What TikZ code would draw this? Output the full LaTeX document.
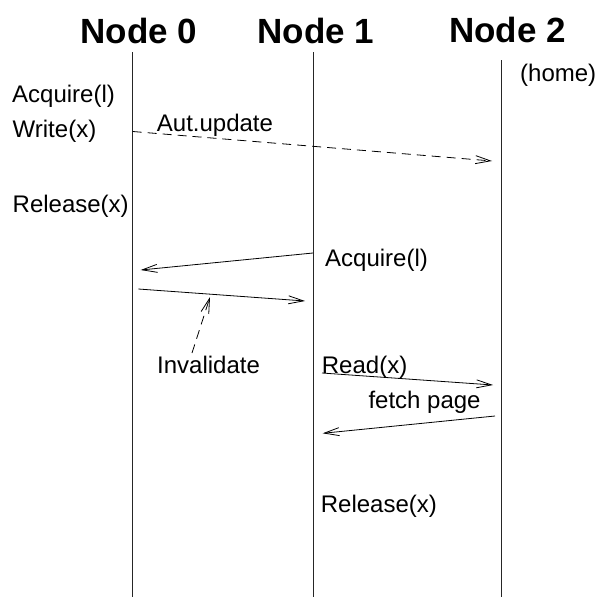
\documentclass[tikz,border=0pt]{standalone}
\usepackage{fontspec}
\setmainfont{Liberation Sans}
\usetikzlibrary{arrows.meta}

\begin{document}
\begin{tikzpicture}[x=1pt,y=-1pt,
  lifeline/.style={line width=1pt,draw=black!85},
  msg/.style={line width=0.8pt,-{Straight Barb[length=15pt,width=8pt,line width=0.8pt]}},
  dmsg/.style={msg,dash pattern=on 9pt off 6pt},
  title/.style={anchor=base,inner sep=0pt,font=\fontsize{35}{40}\selectfont\bfseries},
  lbl/.style={anchor=base west,inner sep=0pt,font=\fontsize{24}{28}\selectfont}]

\useasboundingbox (0,0) rectangle (596,597);

% column headings
\node[title] (n0) at (138.7,43.3) {Node 0};
\node[title] (n1) at (316,43.3) {Node 1};
\node[title] (n2) at (507.5,42.3) {Node 2};
\node[lbl] (home) at (520,81) {(home)};

% lifelines
\coordinate (t0) at (132.7,52);  \coordinate (b0) at (132.7,597);
\coordinate (t1) at (313,52);    \coordinate (b1) at (313,597);
\coordinate (t2) at (501.5,60);  \coordinate (b2) at (501.5,597);
\draw[lifeline] (t0) -- (b0);
\draw[lifeline] (t1) -- (b1);
\draw[lifeline] (t2) -- (b2);

% node 0 events
\node[lbl] (acq0) at (12,102) {Acquire(l)};
\node[lbl] (wr0) at (12.5,137) {Write(x)};
\node[lbl] (rel0) at (12.5,212) {Release(x)};
\node[lbl] (aut) at (156.7,131) {Aut.update};

% automatic update to the home node
\coordinate (u0) at (132.7,131.5);
\coordinate (u2) at (492,161);
\draw[dmsg] (u0) -- (u2);

% lock transfer between node 1 and node 0
\node[lbl] (acq1) at (325,266.7) {Acquire(l)};
\coordinate (a1) at (313,253);
\coordinate (a0) at (140.7,270);
\draw[msg] (a1) -- (a0);
\coordinate (g0) at (138.3,289);
\coordinate (g1) at (305,301);
\draw[msg] (g0) -- (g1);

% invalidation piggybacked on the grant
\node[lbl] (inv) at (157,373) {Invalidate};
\coordinate (i0) at (192,353);
\coordinate (i1) at (210,297);
\draw[dmsg] (i0) -- (i1);

% page fetch from the home node
\node[lbl] (rd1) at (321.7,373.3) {Read(x)};
\coordinate (r1) at (322,373);
\coordinate (r2) at (493,385);
\draw[msg] (r1) -- (r2);
\node[lbl] (fp) at (368.3,408.3) {fetch page};
\coordinate (f2) at (495,416);
\coordinate (f1) at (322.7,433.3);
\draw[msg] (f2) -- (f1);

\node[lbl] (rel1) at (320.7,512.7) {Release(x)};
\end{tikzpicture}
\end{document}
